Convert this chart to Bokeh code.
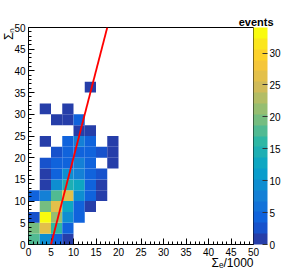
import numpy as np
from bokeh.plotting import figure
from bokeh.models import (ColumnDataSource, LinearColorMapper, ColorBar, Slope, Title,
                          SingleIntervalTicker, Range1d)
from bokeh.embed import file_html
from bokeh.resources import INLINE

# ---------------- data ----------------
bin_width = 2.5
cell_x = [0, 2.5, 5, 7.5,
          0, 2.5, 5, 7.5,
          0, 2.5, 5, 7.5, 10,
          2.5, 5, 7.5, 10, 12.5,
          0, 2.5, 5, 7.5, 10, 12.5, 15,
          2.5, 5, 7.5, 10, 12.5, 15,
          2.5, 5, 7.5, 10, 12.5, 15,
          2.5, 5, 7.5, 10, 12.5, 17.5,
          5, 7.5, 10, 12.5, 15, 17.5,
          2.5, 7.5, 10, 12.5, 17.5,
          10, 12.5,
          5, 7.5, 10,
          2.5, 7.5,
          12.5]
cell_y = [0, 0, 0, 0,
          2.5, 2.5, 2.5, 2.5,
          5, 5, 5, 5, 5,
          7.5, 7.5, 7.5, 7.5, 7.5,
          10, 10, 10, 10, 10, 10, 10,
          12.5, 12.5, 12.5, 12.5, 12.5, 12.5,
          15, 15, 15, 15, 15, 15,
          17.5, 17.5, 17.5, 17.5, 17.5, 17.5,
          20, 20, 20, 20, 20, 20,
          22.5, 22.5, 22.5, 22.5, 22.5,
          25, 25,
          27.5, 27.5, 27.5,
          30, 30,
          35]
cell_events = [18, 9, 4, 1,
               20, 27, 16, 4,
               3, 34, 21, 9, 4,
               19, 26, 13, 5, 1,
               4, 8, 18, 26, 9, 4, 1,
               1, 9, 14, 12, 4, 1,
               1, 4, 9, 8, 4, 3,
               3, 4, 5, 7, 4, 1,
               3, 4, 5, 4, 3, 1,
               1, 4, 7, 4, 1,
               1, 1,
               1, 1, 4,
               1, 1,
               1]
z_max = 34
fit_gradient = 4.0
fit_intercept = -20.0
x_title = "Σₑ/1000"
y_title = "Σₙ"
z_title = "events"

# ---------------- palette (ROOT kBird, 20 contours) ----------------
st = [0.0, 0.125, 0.25, 0.375, 0.5, 0.625, 0.75, 0.875, 1.0]
rr = [0.2082, 0.0592, 0.0780, 0.0232, 0.1802, 0.5301, 0.8186, 0.9956, 0.9764]
gg = [0.1664, 0.3599, 0.5041, 0.6419, 0.7178, 0.7492, 0.7328, 0.7862, 0.9832]
bb = [0.5293, 0.8684, 0.8385, 0.7914, 0.6425, 0.4662, 0.3499, 0.1968, 0.0539]
ncont = 20
palette = []
for i in range(ncont):
    t = min((i + 0.99) / ncont, 1.0)
    r = int(round(np.interp(t, st, rr) * 255))
    g = int(round(np.interp(t, st, gg) * 255))
    b = int(round(np.interp(t, st, bb) * 255))
    palette.append("#%02x%02x%02x" % (r, g, b))

mapper = LinearColorMapper(palette=palette, low=0, high=z_max)

src = ColumnDataSource(dict(
    left=[x for x in cell_x],
    right=[x + bin_width for x in cell_x],
    bottom=[y for y in cell_y],
    top=[y + bin_width for y in cell_y],
    n=cell_events,
))

FONT = "Liberation Sans"

p = figure(width=283, height=272, x_range=Range1d(0, 50), y_range=Range1d(0, 50),
           output_backend="svg", toolbar_location=None,
           min_border_left=28, min_border_right=30, min_border_top=27, min_border_bottom=28,
           background_fill_color="white", border_fill_color="white",
           outline_line_color="black", outline_line_width=1)
p.grid.visible = False

p.quad(left="left", right="right", bottom="bottom", top="top", source=src,
       fill_color={"field": "n", "transform": mapper}, line_color=None)

p.add_layout(Slope(gradient=fit_gradient, y_intercept=fit_intercept,
                   line_color="#ff0000", line_width=1.8))

for ax in (p.xaxis[0], p.yaxis[0]):
    ax.ticker = SingleIntervalTicker(interval=5, num_minor_ticks=5)
    ax.axis_line_color = None
    ax.major_tick_in = 6
    ax.major_tick_out = 0
    ax.minor_tick_in = 3
    ax.minor_tick_out = 0
    ax.major_tick_line_color = "black"
    ax.minor_tick_line_color = "black"
    ax.major_label_text_font = FONT
    ax.major_label_text_font_size = "10px"
    ax.major_label_text_color = "black"
    ax.major_label_standoff = 3

cb = ColorBar(color_mapper=mapper, width=14, padding=0, margin=2,
              ticker=SingleIntervalTicker(interval=5),
              major_tick_in=5, major_tick_out=0, major_tick_line_color="#333333",
              minor_tick_line_color=None, bar_line_color=None,
              major_label_text_font=FONT, major_label_text_font_size="10px",
              major_label_text_color="black", label_standoff=2,
              background_fill_color=None, border_line_color=None)
p.add_layout(cb, "right")

# colour bar title
p.add_layout(Title(text=z_title, align="right", offset=-20, standoff=0,
                   vertical_align="bottom",
                   text_font=FONT, text_font_size="11px", text_font_style="bold",
                   text_color="black"), "above")

# axis titles (ROOT style: at the end of each axis)
p.add_layout(Title(text=x_title, align="right", offset=0, standoff=-6,
                   vertical_align="top",
                   text_font=FONT, text_font_size="12px", text_font_style="normal",
                   text_color="black"), "below")
p.add_layout(Title(text=y_title, align="right", offset=0, standoff=-9,
                   vertical_align="bottom",
                   text_font=FONT, text_font_size="12px", text_font_style="normal",
                   text_color="black"), "left")

open("out.html", "w").write(file_html(p, INLINE))
